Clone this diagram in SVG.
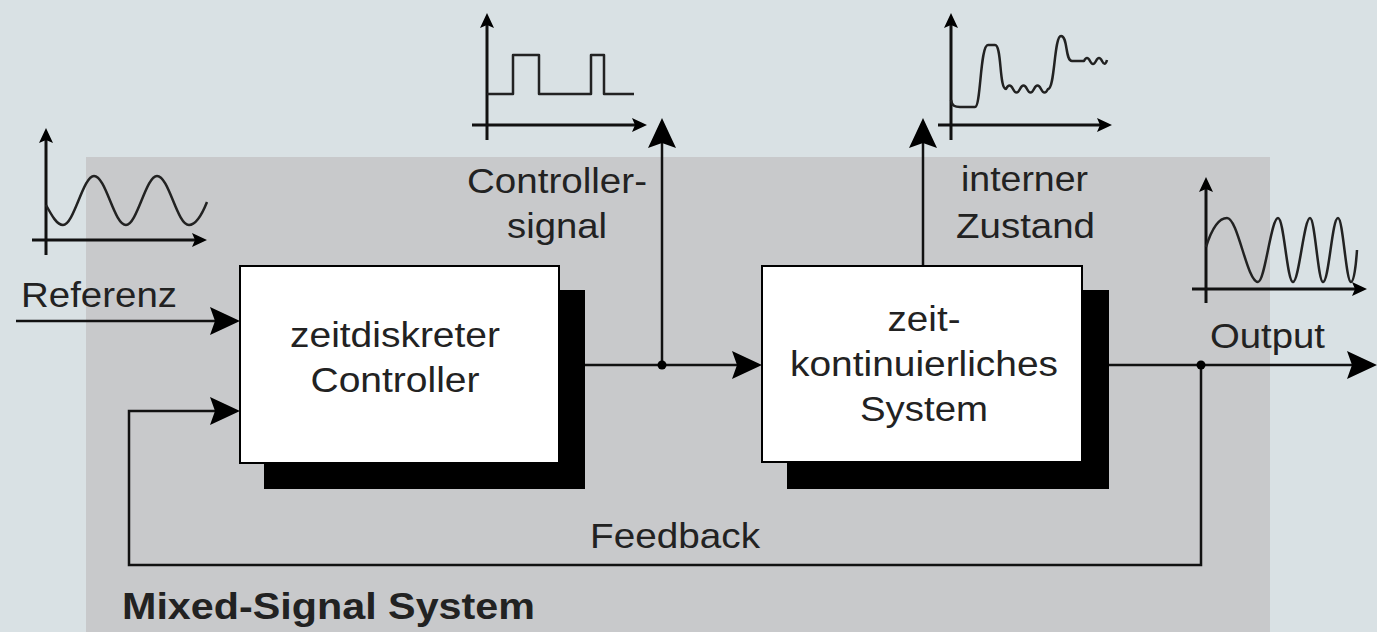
<svg xmlns="http://www.w3.org/2000/svg" width="1377" height="632" viewBox="0 0 1377 632">
  <style>
    .t { font-family: "Liberation Sans", Arial, sans-serif; font-size: 35px; fill: #222; }
    .tb { font-family: "Liberation Sans", Arial, sans-serif; font-size: 36px; font-weight: bold; fill: #222; }
    .conn { fill: none; stroke: #111; stroke-width: 2.5; }
    .axis { fill: none; stroke: #111; stroke-width: 3; }
    .sig { fill: none; stroke: #222; stroke-width: 2.5; stroke-linejoin: round; }
    .box { fill: #fff; stroke: #000; stroke-width: 2; }
    .shadow { fill: #000; }
  </style>
  <defs>
    <marker id="big" markerUnits="userSpaceOnUse" viewBox="-32 -16 34 32" refX="-22" refY="0" markerWidth="34" markerHeight="32" orient="auto">
      <path d="M0,0 L-30,-14 L-25,0 L-30,14 Z" fill="#000"/>
    </marker>
    <marker id="small" markerUnits="userSpaceOnUse" viewBox="-16 -8 18 16" refX="-9" refY="0" markerWidth="18" markerHeight="16" orient="auto">
      <path d="M0,0 L-15,-7 L-12,0 L-15,7 Z" fill="#000"/>
    </marker>
  </defs>

  <rect x="0" y="0" width="1377" height="632" fill="#d9e1e4"/>
  <rect id="system-area" x="86" y="157" width="1184" height="475" fill="#c8c9cb"/>

  <!-- Reference signal graph -->
  <g id="graph-referenz">
    <line class="axis" x1="46" y1="255" x2="46" y2="137" marker-end="url(#small)"/>
    <line class="axis" x1="32" y1="240" x2="198" y2="240" marker-end="url(#small)"/>
    <path class="sig" d="M46,205 C52,216 57,225 63,225 C74,225 83,176 94,176 C106,176 114,225 126,225 C137,225 146,176 157,176 C169,176 177,225 189,225 C197,225 203,212 207,202"/>
  </g>

  <!-- Controller signal graph -->
  <g id="graph-controller">
    <line class="axis" x1="487" y1="140" x2="487" y2="22" marker-end="url(#small)"/>
    <line class="axis" x1="472" y1="125" x2="638" y2="125" marker-end="url(#small)"/>
    <path class="sig" d="M487,94 H513 V55 H539 V94 H591 V55 H604 V94 H634"/>
  </g>

  <!-- Internal state graph -->
  <g id="graph-intern">
    <line class="axis" x1="951" y1="140" x2="951" y2="22" marker-end="url(#small)"/>
    <line class="axis" x1="938" y1="125" x2="1103" y2="125" marker-end="url(#small)"/>
    <path class="sig" d="M951,100 C952,106 955,107 960,107 L975,107 C981,107 980,45 988,45 L995,45 C1002,45 999,89 1006,89 Q1009.5,82 1013,89 T1020,89 T1027,89 T1034,89 T1041,89 T1048,89 C1055,89 1054,36 1061,36 C1068,36 1065,61 1072,61 L1084,61 Q1087,55 1090,61 T1096,61 T1102,61 T1107,60"/>
  </g>

  <!-- Output graph -->
  <g id="graph-output">
    <line class="axis" x1="1206" y1="303" x2="1206" y2="186" marker-end="url(#small)"/>
    <line class="axis" x1="1192" y1="289" x2="1358" y2="289" marker-end="url(#small)"/>
    <path class="sig" d="M1206,247 C1212,228 1219,218 1227,218 C1238,218 1247,282 1258,282 C1265,282 1271,218 1278,218 C1284,218 1287,282 1293,282 C1299,282 1304,218 1310,218 C1315,218 1318,282 1323,282 C1329,282 1332,218 1338,218 C1343,218 1346,282 1351,282 C1354,282 1356,265 1357,250"/>
  </g>

  <!-- Connectors -->
  <g id="connectors">
    <line class="conn" x1="16" y1="321" x2="218" y2="321" marker-end="url(#big)"/>
    <polyline class="conn" points="1201,365 1201,565 129,565 129,411 218,411" marker-end="url(#big)"/>
    <line class="conn" x1="559" y1="365" x2="740" y2="365" marker-end="url(#big)"/>
    <line class="conn" x1="662" y1="365" x2="662" y2="140" marker-end="url(#big)"/>
    <line class="conn" x1="923" y1="266" x2="923" y2="140" marker-end="url(#big)"/>
    <line class="conn" x1="1082" y1="365" x2="1355" y2="365" marker-end="url(#big)"/>
    <circle cx="662" cy="365" r="4.5" fill="#000"/>
    <circle cx="1201" cy="365" r="4.5" fill="#000"/>
  </g>

  <!-- Blocks -->
  <g id="controller">
    <rect class="shadow" x="264" y="290" width="321" height="199"/>
    <rect class="box" x="240" y="266" width="319" height="197"/>
    <text class="t" x="395" y="347" text-anchor="middle" textLength="210" lengthAdjust="spacingAndGlyphs">zeitdiskreter</text>
    <text class="t" x="395" y="392" text-anchor="middle" textLength="169" lengthAdjust="spacingAndGlyphs">Controller</text>
  </g>
  <g id="system">
    <rect class="shadow" x="787" y="290" width="322" height="199"/>
    <rect class="box" x="762" y="266" width="320" height="196"/>
    <text class="t" x="924" y="331" text-anchor="middle" textLength="73" lengthAdjust="spacingAndGlyphs">zeit-</text>
    <text class="t" x="924" y="376" text-anchor="middle" textLength="268" lengthAdjust="spacingAndGlyphs">kontinuierliches</text>
    <text class="t" x="924" y="421" text-anchor="middle" textLength="128" lengthAdjust="spacingAndGlyphs">System</text>
  </g>

  <!-- Labels -->
  <g id="labels">
    <text class="t" x="21" y="307" textLength="156" lengthAdjust="spacingAndGlyphs">Referenz</text>
    <text class="t" x="467" y="193" textLength="180" lengthAdjust="spacingAndGlyphs">Controller-</text>
    <text class="t" x="507" y="238" textLength="100" lengthAdjust="spacingAndGlyphs">signal</text>
    <text class="t" x="961" y="191" textLength="127" lengthAdjust="spacingAndGlyphs">interner</text>
    <text class="t" x="956" y="238" textLength="139" lengthAdjust="spacingAndGlyphs">Zustand</text>
    <text class="t" x="1210" y="348" textLength="115" lengthAdjust="spacingAndGlyphs">Output</text>
    <text class="t" x="590" y="548" textLength="170" lengthAdjust="spacingAndGlyphs">Feedback</text>
    <text class="tb" x="122" y="619" textLength="413" lengthAdjust="spacingAndGlyphs">Mixed-Signal System</text>
  </g>
</svg>
